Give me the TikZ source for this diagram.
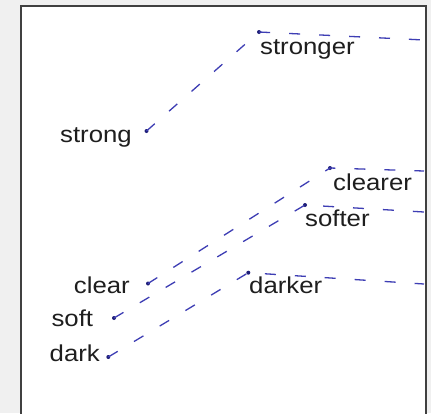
\documentclass[tikz,border=0pt]{standalone}
\usepackage{fontspec}
\setmainfont[FakeStretch=1.12]{Liberation Sans}
\definecolor{bgc}{HTML}{F0F0F0}
\definecolor{linec}{RGB}{62,62,180}
\definecolor{dotc}{RGB}{30,30,120}
\definecolor{txtc}{HTML}{1E1E1E}
\tikzset{
  wlabel/.style={inner sep=0pt, text=txtc, font=\fontsize{23}{26}\selectfont},
  lft/.style={wlabel, anchor=base east},
  rgt/.style={wlabel, anchor=base west},
  pt/.style={circle, fill=dotc, inner sep=0pt, minimum size=4pt},
  vec/.style={draw=linec, line width=1.3pt, dash pattern=on 11pt off 19pt},
}
\begin{document}
\begin{tikzpicture}[x=1pt,y=-1pt]
\useasboundingbox (0,0) rectangle (431,413);
\fill[bgc] (0,0) rectangle (431,413);
\filldraw[fill=white, draw=black!75, line width=1.6pt] (21,6) rectangle (426,420);
% points
\node[pt] (strong) at (146.5,131) {};
\node[pt] (stronger) at (259,32) {};
\node[pt] (clear) at (148,283.5) {};
\node[pt] (clearer) at (330,168) {};
\node[pt] (soft) at (114,318) {};
\node[pt] (softer) at (305,205) {};
\node[pt] (dark) at (108.3,357) {};
\node[pt] (darker) at (248.3,272.7) {};
\coordinate (e1) at (424,40);
\coordinate (e2) at (424,171);
\coordinate (e3) at (424,212);
\coordinate (e4) at (424,284);
% vectors
\begin{scope}
\clip (22,7) rectangle (425,412);
\draw[vec] (strong.center) -- (stronger.center) -- (e1);
\draw[vec] (clear.center) -- (clearer.center) -- (e2);
\draw[vec] (soft.center) -- (softer.center) -- (e3);
\draw[vec] (dark.center) -- (darker.center) -- (e4);
\end{scope}
% labels
\node[lft] (lstrong) at (132,142) {strong};
\node[rgt] (lstronger) at (260,54) {stronger};
\node[lft] (lclear) at (130,293.3) {clear};
\node[rgt] (lclearer) at (333,190) {clearer};
\node[lft] (lsoft) at (93.3,326.7) {soft};
\node[rgt] (lsofter) at (305,226.7) {softer};
\node[lft] (ldark) at (100,361.7) {dark};
\node[rgt] (ldarker) at (249,293.3) {darker};
\end{tikzpicture}
\end{document}
